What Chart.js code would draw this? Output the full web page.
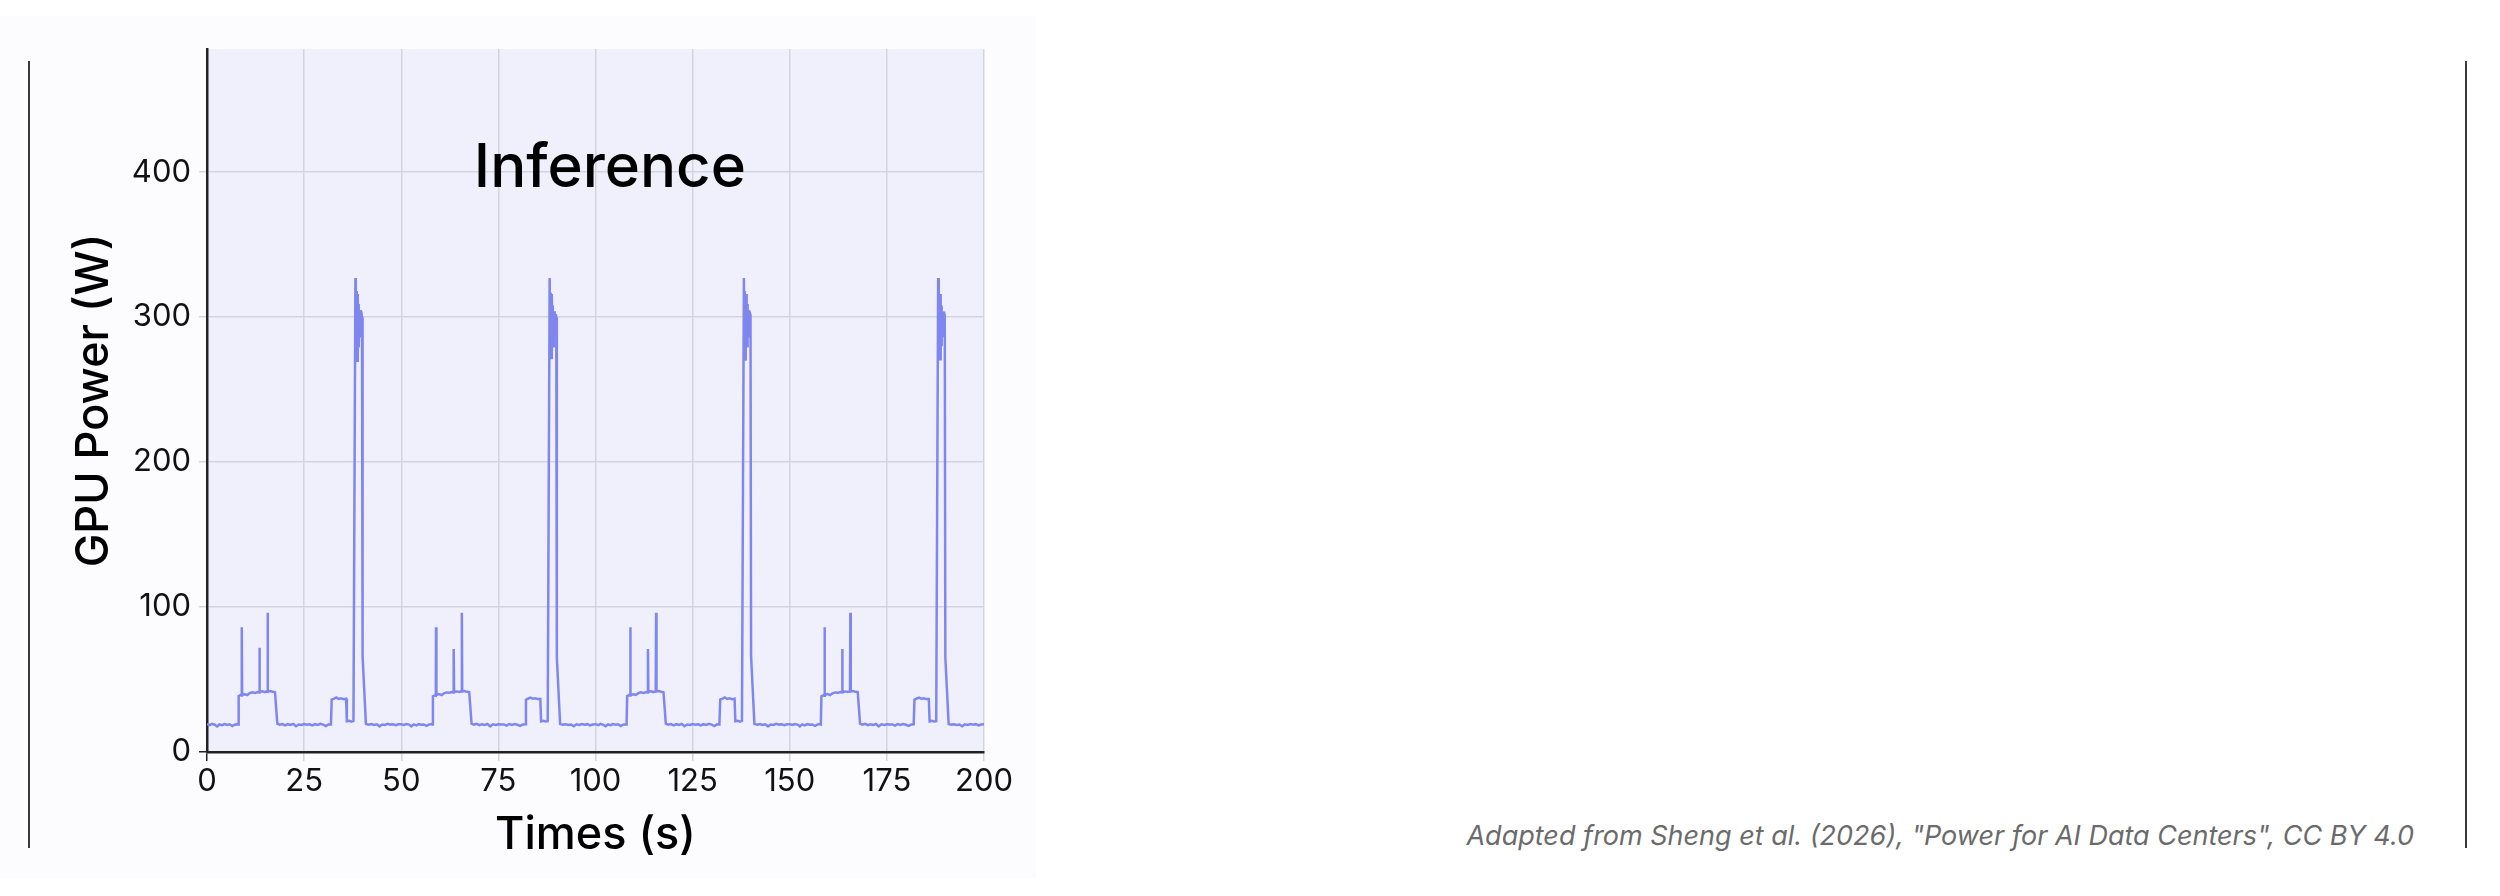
<!DOCTYPE html>
<html>
<head>
<meta charset="utf-8">
<script src="https://cdn.jsdelivr.net/npm/chart.js@4.4.1/dist/chart.umd.min.js"></script>
<style>
  html, body { margin: 0; padding: 0; background: #ffffff; }
  body { width: 2500px; height: 896px; position: relative; overflow: hidden; font-family: Inter, sans-serif; }
  #panel { position: absolute; left: 0; top: 16px; width: 1036px; height: 862px; background: #fcfcfe; }
  .rule { position: absolute; top: 61px; height: 787px; width: 2px; background: #3a3a3a; }
  #credit { position: absolute; right: 86px; top: 822px; font: italic 27px Inter, sans-serif; line-height: 27px; color: #6b6b6b; white-space: nowrap; }
</style>
</head>
<body>
<div id="panel"><canvas id="power-chart"></canvas></div>
<div class="rule" style="left:28px"></div>
<div class="rule" style="left:2465px"></div>
<div id="credit">Adapted from Sheng et al. (2026), "Power for AI Data Centers", CC BY 4.0</div>
<script>
// GPU power trace, one inference cycle per 50 s
var seconds = [
  0.0, 0.7, 1.3, 2.0, 2.6, 3.2, 3.9, 4.5, 5.2, 5.8, 6.5, 7.1, 7.7, 8.0,
  8.15, 8.6, 8.9, 8.95, 9.05, 9.7, 10.4, 11.0, 11.7, 12.4, 13.1, 13.45, 13.5, 13.6, 14.3, 14.9, 15.5, 15.6, 15.7, 16.3, 16.9, 17.5,
  18.1, 18.7, 19.4, 20.1, 20.8, 21.5, 22.2, 22.9, 23.6, 24.3, 25.0, 25.7, 26.4, 27.1, 27.8, 28.5, 29.2, 29.9, 30.6, 31.3, 31.9,
  32.1, 32.7, 33.3, 33.9, 34.5, 35.1, 35.8, 36.0, 36.6, 37.2, 37.7,
  38.2, 38.3, 38.4, 38.5, 38.6, 38.7, 38.8, 38.9, 39.0, 39.1, 39.2, 39.3, 39.4, 39.5, 39.6, 39.8, 39.9, 40.05,
  40.9, 41.6, 42.3, 43.0, 43.7, 44.4, 45.1, 45.8, 46.5, 47.2, 47.9, 48.6, 49.3,

  50.0, 50.7, 51.3, 52.0, 52.6, 53.2, 53.9, 54.5, 55.2, 55.8, 56.5, 57.1, 57.7, 58.0,
  58.15, 58.6, 58.9, 58.95, 59.05, 59.7, 60.4, 61.0, 61.7, 62.4, 63.1, 63.45, 63.5, 63.6, 64.3, 64.9, 65.5, 65.6, 65.7, 66.3, 66.9, 67.5,
  68.1, 68.7, 69.4, 70.1, 70.8, 71.5, 72.2, 72.9, 73.6, 74.3, 75.0, 75.7, 76.4, 77.1, 77.8, 78.5, 79.2, 79.9, 80.6, 81.3, 81.9,
  82.1, 82.7, 83.3, 83.9, 84.5, 85.1, 85.8, 86.0, 86.6, 87.2, 87.7,
  88.2, 88.3, 88.4, 88.5, 88.6, 88.7, 88.8, 88.9, 89.0, 89.1, 89.2, 89.3, 89.4, 89.5, 89.6, 89.8, 89.9, 90.05,
  90.9, 91.6, 92.3, 93.0, 93.7, 94.4, 95.1, 95.8, 96.5, 97.2, 97.9, 98.6, 99.3,

  100.0, 100.7, 101.3, 102.0, 102.6, 103.2, 103.9, 104.5, 105.2, 105.8, 106.5, 107.1, 107.7, 108.0,
  108.15, 108.6, 108.9, 108.95, 109.05, 109.7, 110.4, 111.0, 111.7, 112.4, 113.1, 113.45, 113.5, 113.6, 114.3, 114.9, 115.5, 115.6, 115.7, 116.3, 116.9, 117.5,
  118.1, 118.7, 119.4, 120.1, 120.8, 121.5, 122.2, 122.9, 123.6, 124.3, 125.0, 125.7, 126.4, 127.1, 127.8, 128.5, 129.2, 129.9, 130.6, 131.3, 131.9,
  132.1, 132.7, 133.3, 133.9, 134.5, 135.1, 135.8, 136.0, 136.6, 137.2, 137.7,
  138.2, 138.3, 138.4, 138.5, 138.6, 138.7, 138.8, 138.9, 139.0, 139.1, 139.2, 139.3, 139.4, 139.5, 139.6, 139.8, 139.9, 140.05,
  140.9, 141.6, 142.3, 143.0, 143.7, 144.4, 145.1, 145.8, 146.5, 147.2, 147.9, 148.6, 149.3,

  150.0, 150.7, 151.3, 152.0, 152.6, 153.2, 153.9, 154.5, 155.2, 155.8, 156.5, 157.1, 157.7, 158.0,
  158.15, 158.6, 158.9, 158.95, 159.05, 159.7, 160.4, 161.0, 161.7, 162.4, 163.1, 163.45, 163.5, 163.6, 164.3, 164.9, 165.5, 165.6, 165.7, 166.3, 166.9, 167.5,
  168.1, 168.7, 169.4, 170.1, 170.8, 171.5, 172.2, 172.9, 173.6, 174.3, 175.0, 175.7, 176.4, 177.1, 177.8, 178.5, 179.2, 179.9, 180.6, 181.3, 181.9,
  182.1, 182.7, 183.3, 183.9, 184.5, 185.1, 185.8, 186.0, 186.6, 187.2, 187.7,
  188.2, 188.3, 188.4, 188.5, 188.6, 188.7, 188.8, 188.9, 189.0, 189.1, 189.2, 189.3, 189.4, 189.5, 189.6, 189.8, 189.9, 190.05,
  190.9, 191.6, 192.3, 193.0, 193.7, 194.4, 195.1, 195.8, 196.5, 197.2, 197.9, 198.6, 199.3, 200.0
];

var watts = [
  19.2, 18.6, 19.4, 18.8, 17.6, 19.0, 18.5, 19.3, 18.7, 19.1, 17.9, 18.8, 19.2, 19.0,
  38.6, 39.2, 38.9, 86, 39.4, 39.8, 39.3, 40.6, 41.2, 40.8, 41.4, 41.0, 72, 41.5, 41.9, 41.3, 42.0, 96, 41.8, 42.1, 41.6, 41.2,
  19.6, 18.9, 19.3, 18.4, 19.2, 18.7, 19.4, 17.8, 19.0, 18.6, 19.3, 18.8, 19.1, 18.3, 19.2, 18.7, 19.4, 18.9, 17.9, 19.1, 19.0,
  36.2, 36.8, 37.6, 36.6, 37.1, 36.4, 36.7, 21.2, 21.6, 20.9, 21.4,
  327, 272, 318, 283, 314, 270, 316, 288, 309, 279, 303, 292, 305, 286, 301, 302, 300, 66,
  19.4, 18.8, 19.3, 18.6, 19.1, 17.7, 19.0, 18.7, 19.4, 18.9, 19.2, 18.5, 19.1,

  19.1, 18.7, 19.3, 18.9, 17.7, 19.1, 18.4, 19.2, 18.8, 19.0, 18.0, 18.9, 19.3, 19.0,
  38.5, 39.1, 38.8, 86, 39.3, 39.9, 39.2, 40.5, 41.1, 40.9, 41.3, 41.1, 71, 41.4, 41.8, 41.4, 41.9, 96, 41.7, 42.0, 41.5, 41.3,
  19.5, 18.8, 19.4, 18.5, 19.1, 18.6, 19.3, 17.7, 19.1, 18.7, 19.2, 18.9, 19.0, 18.2, 19.3, 18.6, 19.3, 18.8, 18.0, 19.0, 19.1,
  36.1, 36.9, 37.5, 36.7, 37.0, 36.5, 36.6, 21.1, 21.5, 21.0, 21.3,
  327, 273, 317, 284, 313, 271, 316, 289, 308, 280, 304, 291, 304, 287, 301, 302, 300, 65,
  19.3, 18.9, 19.2, 18.7, 19.0, 17.8, 19.1, 18.6, 19.3, 18.8, 19.2, 18.4, 19.0,

  19.2, 18.6, 19.4, 18.7, 17.8, 19.0, 18.5, 19.3, 18.8, 19.1, 17.9, 18.9, 19.2, 19.0,
  38.6, 39.2, 38.9, 86, 39.4, 39.8, 39.4, 40.6, 41.2, 40.7, 41.4, 41.0, 71, 41.5, 41.9, 41.3, 42.0, 96, 41.8, 42.1, 41.6, 41.2,
  19.6, 18.9, 19.3, 18.4, 19.2, 18.7, 19.4, 17.8, 19.0, 18.6, 19.3, 18.8, 19.1, 18.3, 19.2, 18.7, 19.4, 18.9, 17.9, 19.1, 19.0,
  36.2, 36.8, 37.6, 36.6, 37.1, 36.4, 36.7, 21.2, 21.6, 20.9, 21.4,
  327, 272, 318, 283, 314, 270, 316, 288, 309, 279, 303, 292, 305, 286, 301, 302, 300, 66,
  19.4, 18.8, 19.3, 18.6, 19.1, 17.7, 19.0, 18.7, 19.4, 18.9, 19.2, 18.5, 19.1,

  19.1, 18.7, 19.3, 18.9, 17.7, 19.1, 18.4, 19.2, 18.8, 19.0, 18.0, 18.9, 19.3, 19.0,
  38.5, 39.1, 38.8, 86, 39.3, 39.9, 39.2, 40.5, 41.1, 40.9, 41.3, 41.1, 71, 41.4, 41.8, 41.4, 41.9, 96, 41.7, 42.0, 41.5, 41.3,
  19.5, 18.8, 19.4, 18.5, 19.1, 18.6, 19.3, 17.7, 19.1, 18.7, 19.2, 18.9, 19.0, 18.2, 19.3, 18.6, 19.3, 18.8, 18.0, 19.0, 19.1,
  36.1, 36.9, 37.5, 36.7, 37.0, 36.5, 36.6, 21.1, 21.5, 21.0, 21.3,
  327, 273, 317, 284, 313, 271, 316, 289, 308, 280, 304, 291, 304, 287, 301, 302, 300, 65,
  19.3, 18.9, 19.2, 18.7, 19.0, 17.8, 19.1, 18.6, 19.3, 18.8, 19.2, 18.4, 19.0, 19.1
];

var xTickValues = [0, 25, 50, 75, 100, 125, 150, 175, 200];
var yTickValues = [0, 100, 200, 300, 400];
var chartTitle = 'Inference';
var xAxisTitle = 'Times (s)';
var yAxisTitle = 'GPU Power (W)';

var points = [];
seconds.forEach((t, i) => {
  points.push({ x: t, y: watts[i] });
});

var gridColor = '#d4d4de';
var axisColor = '#222222';

var plotBackground = {
  id: 'plotBackground',
  beforeDraw: function (chart) {
    var a = chart.chartArea;
    var ctx = chart.ctx;
    ctx.save();
    ctx.fillStyle = '#f0f0fc';
    ctx.fillRect(a.left, a.top, a.right - a.left, a.bottom - a.top);
    ctx.restore();
  },
};

// the title sits inside the plot, so draw it by hand
var innerTitle = {
  id: 'innerTitle',
  beforeDatasetsDraw: function (chart) {
    var ctx = chart.ctx;
    var x = chart.scales.x.getPixelForValue(103.7);
    var y = chart.scales.y.getPixelForValue(390);
    ctx.save();
    ctx.font = '500 60px Inter';
    ctx.fillStyle = '#000000';
    ctx.textAlign = 'center';
    ctx.textBaseline = 'alphabetic';
    ctx.fillText(chartTitle, x, y);
    ctx.restore();
  },
};

Chart.defaults.font.family = 'Inter';
Chart.defaults.color = '#111111';

var graph = document.getElementById('power-chart').getContext('2d');
new Chart(graph, {
  type: 'line',
  data: {
    datasets: [
      {
        label: yAxisTitle,
        data: points,
        borderColor: '#7f87ee',
        borderWidth: 2.5,
        pointRadius: 0,
        tension: 0,
        fill: false,
      },
    ],
  },
  options: {
    responsive: true,
    maintainAspectRatio: false,
    animation: false,
    layout: { padding: { left: 0, top: 33, right: 52, bottom: 0 } },
    plugins: {
      legend: { display: false },
      tooltip: { enabled: false },
      title: { display: false },
    },
    scales: {
      x: {
        type: 'linear',
        min: 0,
        max: 200,
        afterBuildTicks: (s) => { s.ticks = xTickValues.map((v) => ({ value: v })); },
        afterFit: (s) => { s.height = 126; },
        ticks: { font: { size: 31 }, color: '#111111', padding: 2, maxRotation: 0 },
        grid: {
          color: gridColor,
          lineWidth: 1.5,
          tickLength: 9,
          tickColor: (c) => (c.tick && c.tick.value === 0 ? axisColor : gridColor),
        },
        border: { color: axisColor, width: 2.5 },
        title: { display: true, text: xAxisTitle, color: '#000000', font: { size: 45, weight: '500' }, padding: { top: 0, bottom: 16 } },
      },
      y: {
        type: 'linear',
        min: 0,
        max: 485,
        afterBuildTicks: (s) => { s.ticks = yTickValues.map((v) => ({ value: v })); },
        afterFit: (s) => { s.width = 207; },
        ticks: { font: { size: 31 }, color: '#111111', padding: 8 },
        grid: {
          color: gridColor,
          lineWidth: 1.5,
          tickLength: 8,
          tickColor: (c) => (c.tick && c.tick.value === 0 ? axisColor : gridColor),
        },
        border: { color: axisColor, width: 2.5 },
        title: { display: true, text: yAxisTitle, color: '#000000', font: { size: 45, weight: '500' }, padding: { top: 67, bottom: 0 } },
      },
    },
  },
  plugins: [plotBackground, innerTitle],
});
</script>
</body>
</html>
